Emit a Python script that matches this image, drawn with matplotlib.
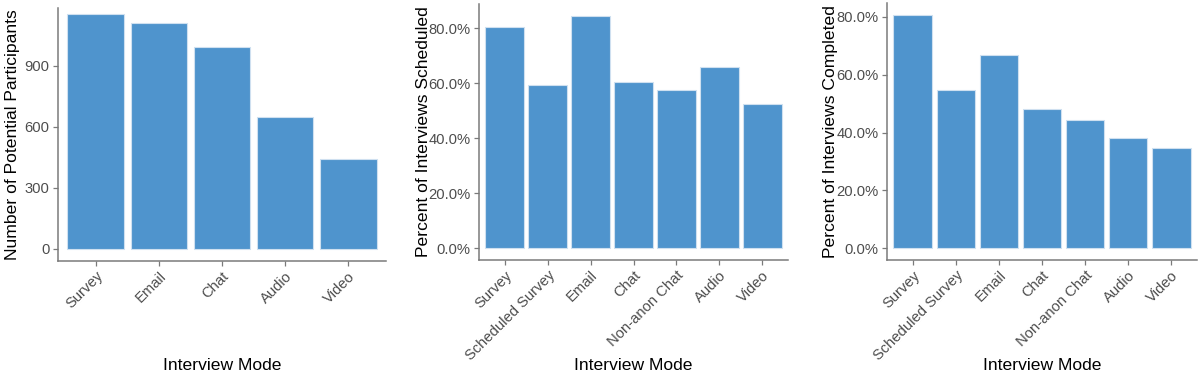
import matplotlib
matplotlib.use("Agg")
import matplotlib.pyplot as plt
from matplotlib.ticker import FuncFormatter, FixedLocator

plt.rcParams['font.family'] = ['Liberation Sans', 'DejaVu Sans']

# ---- data ----
modes_1 = ["Survey", "Email", "Chat", "Audio", "Video"]
participants = [1155, 1112, 990, 648, 443]

modes_2 = ["Survey", "Scheduled Survey", "Email", "Chat", "Non-anon Chat", "Audio", "Video"]
scheduled_pct = [80.6, 59.4, 84.6, 60.3, 57.7, 65.9, 52.6]
completed_pct = [80.8, 54.8, 66.7, 48.1, 44.5, 38.1, 34.6]

ticks_1 = [0, 300, 600, 900]
ticks_pct = [0, 20, 40, 60, 80]

xlabel = "Interview Mode"
ylabels = ["Number of Potential Participants",
           "Percent of Interviews Scheduled",
           "Percent of Interviews Completed"]

# ---- style ----
W, H = 1200, 379
BAR = "#4f94cd"
EDGE = "#cfe0f0"
SPINE = "#7a7a7a"
TICKC = "#4d4d4d"

fig = plt.figure(figsize=(W / 100, H / 100), dpi=100)

def px_axes(l, r, t, b):
    return fig.add_axes([l / W, 1 - b / H, (r - l) / W, (b - t) / H])

panels = [
    (px_axes(58, 386, 8, 260.7), modes_1, participants, ticks_1,
     lambda v, p: f"{int(v)}", (-57.75, 1184), 13),
    (px_axes(479, 788, 4, 260), modes_2, scheduled_pct, ticks_pct,
     lambda v, p: f"{v:.1f}%", None, 423),
    (px_axes(887, 1197, 3, 260), modes_2, completed_pct, ticks_pct,
     lambda v, p: f"{v:.1f}%", None, 830),
]

for (ax, cats, vals, yt, fmt, ylim, ylab_x), ylab in zip(panels, ylabels):
    x = list(range(1, len(cats) + 1))
    ax.bar(x, vals, width=0.9, color=BAR, edgecolor=EDGE, linewidth=0.8)
    ax.set_xlim(0.4, len(cats) + 0.6)
    if ylim is None:
        m = max(vals)
        ylim = (-0.05 * m, 1.05 * m)
    ax.set_ylim(*ylim)
    ax.yaxis.set_major_locator(FixedLocator(yt))
    ax.yaxis.set_major_formatter(FuncFormatter(fmt))
    ax.set_xticks(x)
    ax.set_xticklabels(cats, rotation=45, ha="right", rotation_mode="anchor")
    for s in ("top", "right"):
        ax.spines[s].set_visible(False)
    for s in ("left", "bottom"):
        ax.spines[s].set_color(SPINE)
        ax.spines[s].set_linewidth(1.1)
    ax.tick_params(axis="both", colors=SPINE, labelcolor=TICKC,
                   labelsize=10.6, length=3.5, width=0.9, pad=2.5)
    ax.set_xlabel(xlabel, fontsize=12.6, color="black", va="top")
    ax.xaxis.set_label_coords(0.5 * (ax.get_position().x0 + ax.get_position().x1),
                              1 - 358 / H, transform=fig.transFigure)
    ax.set_ylabel(ylab, fontsize=12.6, color="black", va="center")
    ax.yaxis.set_label_coords(ylab_x / W,
                              0.5 * (ax.get_position().y0 + ax.get_position().y1),
                              transform=fig.transFigure)
    ax.set_facecolor("white")

fig.savefig("out.png", dpi=100, facecolor="white")
